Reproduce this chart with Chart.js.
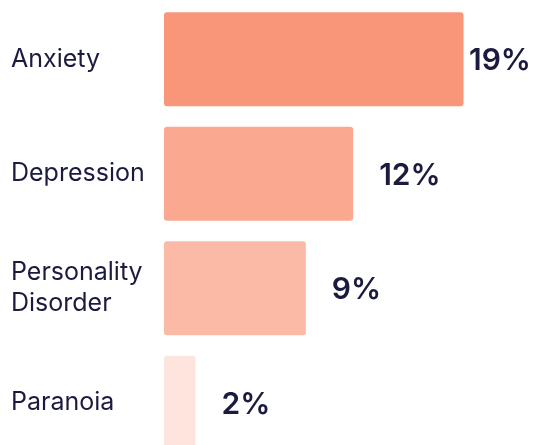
<!DOCTYPE html>
<html>
<head>
<meta charset="utf-8">
<script src="https://cdn.jsdelivr.net/npm/chart.js@4"></script>
<style>
  html, body { margin: 0; padding: 0; background: #fff; overflow: hidden; }
  #wrap { width: 536px; height: 460px; }
</style>
</head>
<body>
<div id="wrap"><canvas id="chart"></canvas></div>
<script>
// Dati del grafico
const categories = ['Anxiety', 'Depression', ['Personality', 'Disorder'], 'Paranoia'];
const values = [19, 12, 9, 2];
const barColors = ['#f99579', '#faa88f', '#fbbaa6', '#fde5de'];

const textColor = '#1b1a3f';

// Plugin per le etichette dei valori a destra delle barre
const valueLabels = {
    id: 'valueLabels',
    afterDatasetsDraw(chart) {
        const ctx = chart.ctx;
        const meta = chart.getDatasetMeta(0);
        ctx.save();
        ctx.font = '600 30px Inter';
        ctx.fillStyle = textColor;
        ctx.textBaseline = 'middle';
        meta.data.forEach((bar, i) => {
            const txt = values[i] + '%';
            const w = ctx.measureText(txt).width;
            let x = bar.x + 26;
            if (x + w > chart.width - 5) x = chart.width - 5 - w; // non uscire dal canvas
            ctx.fillText(txt, x, bar.y + 2);
        });
        ctx.restore();
    }
};

new Chart(document.getElementById('chart'), {
    type: 'bar',
    data: {
        labels: categories,
        datasets: [{
            data: values,
            backgroundColor: barColors,
            borderRadius: 3,
            borderSkipped: false,
            categoryPercentage: 1,
            barPercentage: 0.82
        }]
    },
    options: {
        indexAxis: 'y',
        responsive: true,
        maintainAspectRatio: false,
        animation: false,
        layout: { padding: { left: 11, top: 2, right: 0, bottom: 0 } },
        plugins: { legend: { display: false }, tooltip: { enabled: false } },
        scales: {
            x: {
                display: false,
                min: 0,
                max: 23.6
            },
            y: {
                grid: { display: false },
                border: { display: false },
                afterFit(axis) {
                    axis.width = 153;
                    axis.paddingTop = 0;
                    axis.paddingBottom = 0;
                },
                ticks: {
                    crossAlign: 'far',
                    color: textColor,
                    padding: 0,
                    font: { family: 'Inter', size: 25, lineHeight: 1.25 }
                }
            }
        }
    },
    plugins: [valueLabels]
});
</script>
</body>
</html>
